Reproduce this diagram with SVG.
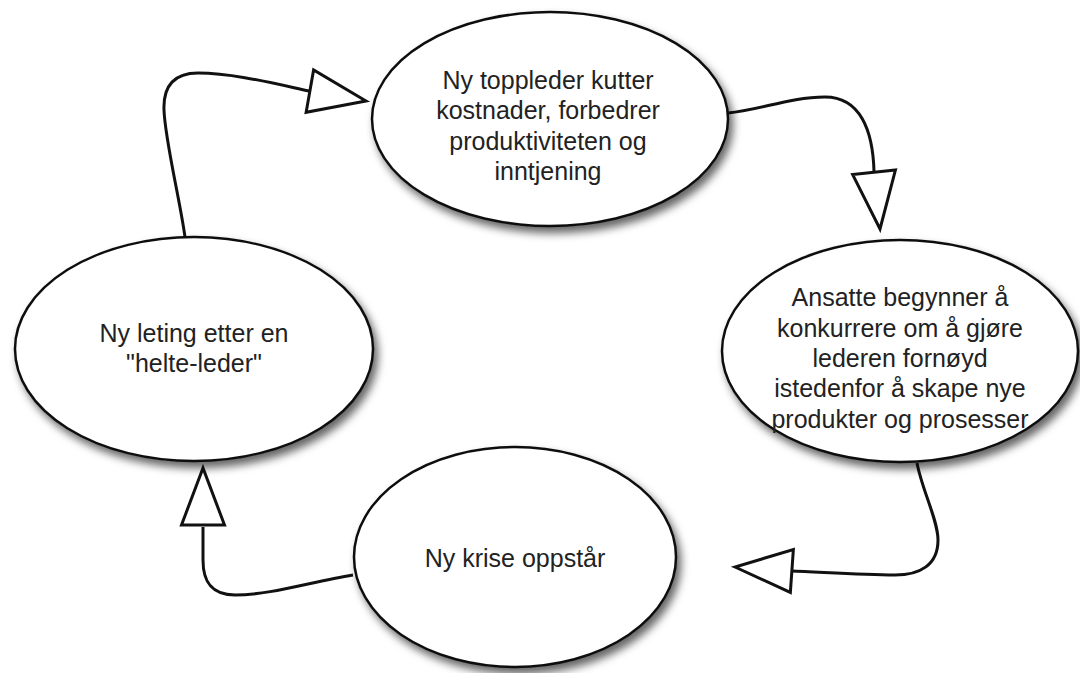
<svg xmlns="http://www.w3.org/2000/svg" xmlns:xlink="http://www.w3.org/1999/xlink" width="1080" height="673" viewBox="0 0 1080 673">
<defs>
<filter id="sh" x="-20%" y="-20%" width="150%" height="150%">
<feDropShadow dx="4" dy="6" stdDeviation="4" flood-color="#000" flood-opacity="0.6"/>
</filter>
<path id="ah" d="M0,0 L-57,-21.5 L-57,21.5 Z"/>
</defs>
<style>
.node ellipse{fill:#fff;stroke:#111;stroke-width:2.5;filter:url(#sh)}
.node text{font-family:"Liberation Sans",Arial,sans-serif;font-size:25px;fill:#222;text-anchor:middle}
.conn path{fill:none;stroke:#111;stroke-width:3}
.conn use{fill:#fff;stroke:#111;stroke-width:3;stroke-linejoin:miter}
</style>
<rect width="1080" height="673" fill="#fff"/>
<g id="connectors" class="conn">
<path d="M185,237 C180,200 165,140 164,110 C163,85 175,73 198,73 C232,73 272,83 309,91"/>
<use xlink:href="#ah" transform="translate(366,101) rotate(10)"/>
<path d="M728,113 C760,110 790,97 825,97 C860,97 873,130 874,172"/>
<use xlink:href="#ah" transform="translate(880,229) rotate(84)"/>
<path d="M917,463 C922,490 938,520 938,540 C938,565 920,575 895,575 C860,575 820,572 791,571"/>
<use xlink:href="#ah" transform="translate(735,567) rotate(184)"/>
<path d="M353,575 C310,582 270,595 235,595 C210,595 203,580 203,560 L203,527"/>
<use xlink:href="#ah" transform="translate(203,468) rotate(-90)"/>
</g>
<g id="n1" class="node">
<ellipse cx="550" cy="119" rx="178" ry="107"/>
<text x="548" y="89">Ny toppleder kutter</text>
<text x="548" y="119">kostnader, forbedrer</text>
<text x="548" y="150">produktiviteten og</text>
<text x="548" y="180">inntjening</text>
</g>
<g id="n2" class="node">
<ellipse cx="900" cy="351" rx="178" ry="111"/>
<text x="900" y="306">Ansatte begynner å</text>
<text x="900" y="337">konkurrere om å gjøre</text>
<text x="900" y="367">lederen fornøyd</text>
<text x="900" y="397">istedenfor å skape nye</text>
<text x="900" y="428">produkter og prosesser</text>
</g>
<g id="n3" class="node">
<ellipse cx="515" cy="557" rx="161" ry="110"/>
<text x="515" y="567">Ny krise oppstår</text>
</g>
<g id="n4" class="node">
<ellipse cx="194" cy="349" rx="179" ry="112"/>
<text x="194" y="342">Ny leting etter en</text>
<text x="194" y="372">"helte-leder"</text>
</g>
</svg>
